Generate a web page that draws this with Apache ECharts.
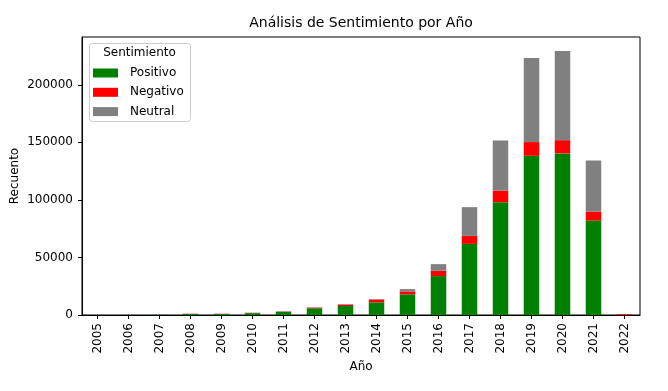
<!DOCTYPE html>
<html>
<head>
<meta charset="utf-8">
<script src="https://cdn.jsdelivr.net/npm/echarts@6/dist/echarts.min.js"></script>
<style>
html,body{margin:0;padding:0;background:#fff;}
#chart{width:668px;height:391px;}
</style>
</head>
<body>
<div id="chart"></div>
<script>
const years = ['2005','2006','2007','2008','2009','2010','2011','2012','2013','2014','2015','2016','2017','2018','2019','2020','2021','2022'];
const positivo = [30, 40, 150, 900, 900, 1600, 2700, 5800, 7800, 11000, 17900, 33800, 61800, 98000, 138300, 140400, 82000, 200];
const negativo = [5, 5, 20, 100, 100, 150, 250, 600, 1200, 2500, 2600, 4600, 6900, 10100, 11900, 11500, 7900, 600];
const neutral  = [10, 15, 50, 200, 200, 300, 350, 300, 500, 300, 2000, 5800, 25000, 43500, 73100, 77500, 44400, 100];
const yTicks = [0, 50000, 100000, 150000, 200000];
const legendNames = ['Positivo', 'Negativo', 'Neutral'];
const colors = ['#008000', '#ff0000', '#808080'];

const FONT = 'DejaVu Sans';
const chart = echarts.init(document.getElementById('chart'), null, {renderer: 'canvas'});
const seriesData = [positivo, negativo, neutral];
chart.setOption({
  animation: false,
  backgroundColor: '#ffffff',
  textStyle: {fontFamily: FONT},
  title: {
    text: 'Análisis de Sentimiento por Año',
    left: 361, top: 16, padding: 0,
    textAlign: 'center',
    textStyle: {fontFamily: FONT, fontSize: 14, fontWeight: 'normal', color: '#000'}
  },
  grid: {
    left: 82, right: 28, top: 37, bottom: 76,
    containLabel: false,
    outerBoundsMode: 'none',
    show: true, borderColor: '#000', borderWidth: 1, backgroundColor: 'transparent'
  },
  graphic: [
    {type: 'rect', left: 89, top: 43, z: 10,
     shape: {width: 101, height: 78, r: 3},
     style: {fill: 'rgba(255,255,255,0.8)', stroke: '#cccccc', lineWidth: 1}},
    {type: 'text', x: 139.5, y: 53, z: 11,
     style: {text: 'Sentimiento', fill: '#000', font: '12px "DejaVu Sans"', align: 'center', verticalAlign: 'middle'}}
  ],
  legend: {
    data: legendNames,
    orient: 'vertical',
    left: 93, top: 66, padding: 0,
    itemWidth: 25, itemHeight: 9, itemGap: 5.3,
    icon: 'rect',
    z: 12,
    selectedMode: false,
    textStyle: {fontFamily: FONT, fontSize: 12, color: '#000', lineHeight: 14, padding: [0, 0, 0, 7]}
  },
  xAxis: {
    type: 'category',
    data: years,
    name: 'Año',
    nameLocation: 'middle',
    nameGap: 46,
    nameMoveOverlap: false,
    nameTextStyle: {fontFamily: FONT, fontSize: 12, color: '#000'},
    axisLine: {show: true, lineStyle: {color: '#000', width: 1}},
    axisTick: {show: true, alignWithLabel: true, length: 4, lineStyle: {color: '#000'}},
    axisLabel: {rotate: 90, margin: 8, fontFamily: FONT, fontSize: 12, color: '#000'},
    splitLine: {show: false}
  },
  yAxis: {
    type: 'value',
    min: 0, max: 241500,
    name: 'Recuento',
    nameLocation: 'middle',
    nameGap: 61,
    nameRotate: 90,
    nameMoveOverlap: false,
    nameTextStyle: {fontFamily: FONT, fontSize: 12, color: '#000'},
    axisLine: {show: true, lineStyle: {color: '#000', width: 1}},
    axisTick: {show: true, length: 4, lineStyle: {color: '#000'}, customValues: yTicks},
    axisLabel: {margin: 9, fontFamily: FONT, fontSize: 12, color: '#000', customValues: yTicks,
                formatter: v => String(v)},
    splitLine: {show: false}
  },
  series: legendNames.map((n, i) => ({
    name: n,
    type: 'bar',
    stack: 'total',
    barWidth: '50%',
    data: seriesData[i],
    itemStyle: {color: colors[i]},
    emphasis: {disabled: true}
  }))
});
</script>
</body>
</html>
